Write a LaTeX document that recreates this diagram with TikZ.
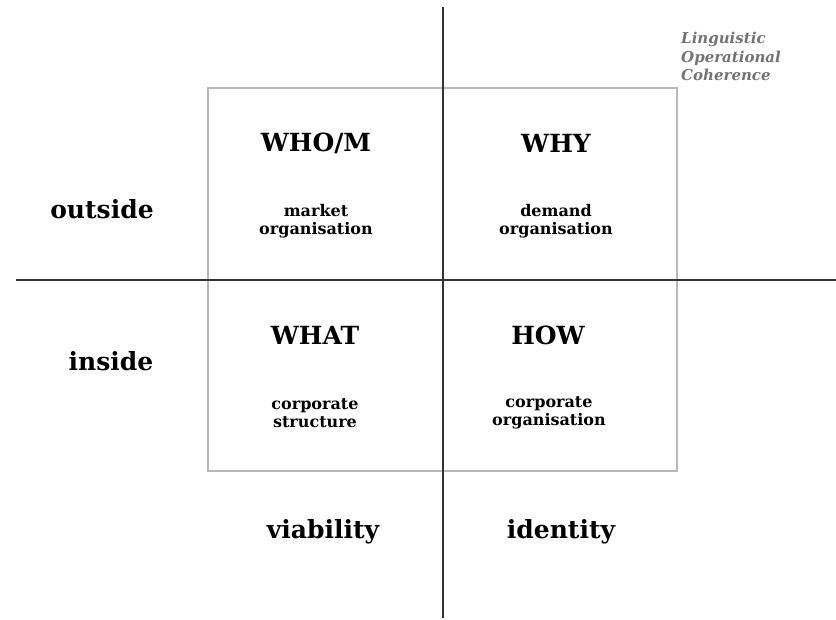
\documentclass[tikz,border=0pt]{standalone}
\usepackage{fontspec}
\setmainfont{DejaVu Serif}
\begin{document}
\begin{tikzpicture}[x=1pt, y=-1pt,
		axis/.style={draw=black!80, line width=1.3pt},
		frame/.style={draw=black!28, line width=1.2pt},
		head/.style={font=\bfseries\fontsize{25}{30}\selectfont},
		side/.style={font=\bfseries\fontsize{25}{30}\selectfont},
		sub/.style={align=center, font=\bfseries\fontsize{16}{18}\selectfont},
		note/.style={align=left, anchor=north west, inner sep=0pt, text=black!55, font=\bfseries\itshape\fontsize{15}{18.5}\selectfont}]
			\useasboundingbox (0, 0) rectangle (836, 619);
			\draw (208, 88) node [coordinate] (nw) {};
			\draw (677, 471) node [coordinate] (se) {};
			\draw (443, 7) node [coordinate] (top) {};
			\draw (443, 618) node [coordinate] (bottom) {};
			\draw (16, 280) node [coordinate] (left) {};
			\draw (836, 280) node [coordinate] (right) {};
			\path [frame] (nw) rectangle (se);
			\path [axis] (top) -- (bottom);
			\path [axis] (left) -- (right);
			\draw (316, 143) node [head] (whom) {WHO/M};
			\draw (556, 143) node [head] (why) {WHY};
			\draw (315, 335) node [head] (what) {WHAT};
			\draw (548, 335) node [head] (how) {HOW};
			\draw (316, 221) node [sub] (market) {market\\organisation};
			\draw (556, 221) node [sub] (demand) {demand\\organisation};
			\draw (315, 413) node [sub] (structure) {corporate\\structure};
			\draw (549, 413) node [sub] (corporate) {corporate\\organisation};
			\draw (102, 209) node [side] (outside) {outside};
			\draw (111, 361) node [side] (inside) {inside};
			\draw (323, 532) node [side] (viability) {viability};
			\draw (561, 532) node [side] (identity) {identity};
			\draw (681, 32) node [note] (coherence) {Linguistic\\Operational\\Coherence};
		\end{tikzpicture}
\end{document}
